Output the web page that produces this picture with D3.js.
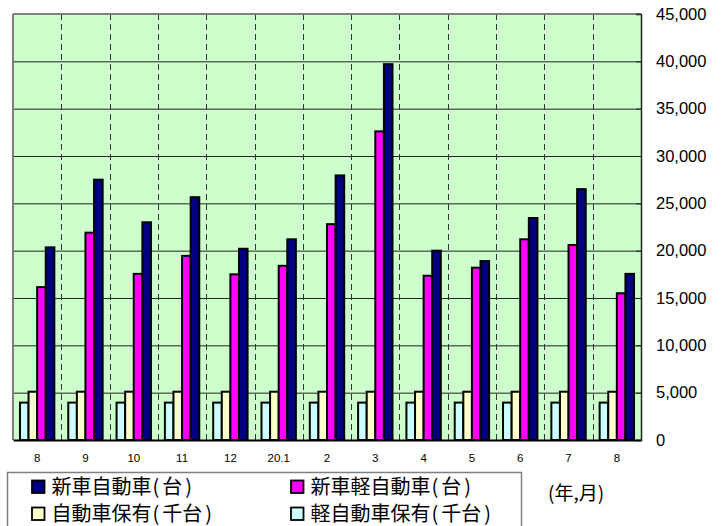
<!DOCTYPE html>
<html>
<head>
<meta charset="utf-8">
<script src="https://cdn.jsdelivr.net/npm/d3@7"></script>
<style>
  body { margin: 0; background: #fff; }
  svg { display: block; }
</style>
</head>
<body>
<svg id="chart" width="722" height="526"></svg>
<script>
// months (year.month)
const categories = ['8', '9', '10', '11', '12', '20.1', '2', '3', '4', '5', '6', '7', '8 '];
const kei_hoyu  = [3950, 3950, 3950, 3950, 3950, 3950, 3950, 3950, 3950, 3950, 3950, 3950, 3950];
const jido_hoyu = [5100, 5100, 5100, 5100, 5100, 5100, 5100, 5100, 5100, 5100, 5100, 5100, 5100];
const shinsha_kei = [16150, 21900, 17550, 19450, 17500, 18400, 22800, 32600, 17350, 18200, 21200, 20600, 15500];
const shinsha     = [20350, 27500, 23000, 25650, 20200, 21200, 27950, 39700, 20000, 18900, 23450, 26500, 17550];
const yTicks = [0, 5000, 10000, 15000, 20000, 25000, 30000, 35000, 40000, 45000];

const series = [
  { key: 'kei',  name: '軽自動車保有(千台)', color: '#CCFFFF', values: kei_hoyu },
  { key: 'jido', name: '自動車保有(千台)',   color: '#FFFFCC', values: jido_hoyu },
  { key: 'skei', name: '新車軽自動車(台)',   color: '#FF00FF', values: shinsha_kei },
  { key: 'sha',  name: '新車自動車(台)',     color: '#000080', values: shinsha }
];

const pL = 13, pR = 641, pT = 14, pB = 440;
const svg = d3.select('#chart');

const x0 = d3.scaleBand().domain(categories).range([pL, pR]).padding(0);
const x1 = d3.scaleBand().domain(series.map(s => s.key))
    .range([0, x0.bandwidth()]).paddingInner(0).paddingOuter(0.81);
const y = d3.scaleLinear().domain([0, 45000]).range([pB, pT]);

// plot background
svg.append('rect')
    .attr('x', pL).attr('y', pT)
    .attr('width', pR - pL).attr('height', pB - pT)
    .attr('fill', '#CCFFCC');

// horizontal grid
svg.append('g')
  .selectAll('line')
  .data(yTicks.slice(1, -1))
  .join('line')
    .attr('x1', pL).attr('x2', pR)
    .attr('y1', d => y(d) + 0.5).attr('y2', d => y(d) + 0.5)
    .attr('stroke', '#222').attr('stroke-width', 1);

// vertical dashed grid at category boundaries
svg.append('g')
  .selectAll('line')
  .data(categories.slice(1))
  .join('line')
    .attr('x1', d => Math.round(x0(d)) + 0.5).attr('x2', d => Math.round(x0(d)) + 0.5)
    .attr('y1', pT).attr('y2', pB)
    .attr('stroke', '#333').attr('stroke-width', 1)
    .attr('stroke-dasharray', '6,4');

// bars
const groups = svg.append('g')
  .selectAll('g')
  .data(categories)
  .join('g')
    .attr('transform', d => `translate(${x0(d)},0)`);

groups.selectAll('rect')
  .data((d, i) => series.map(s => ({ key: s.key, color: s.color, value: s.values[i] })))
  .join('rect')
    .attr('x', d => x1(d.key))
    .attr('y', d => y(d.value))
    .attr('width', x1.bandwidth())
    .attr('height', d => y(0) - y(d.value))
    .attr('fill', d => d.color)
    .attr('stroke', '#000')
    .attr('stroke-width', 2);

// plot border: gray top/left
svg.append('line').attr('x1', pL).attr('x2', pR).attr('y1', pT).attr('y2', pT)
    .attr('stroke', '#808080').attr('stroke-width', 2);
svg.append('line').attr('x1', pL).attr('x2', pL).attr('y1', pT).attr('y2', pB)
    .attr('stroke', '#808080').attr('stroke-width', 2);

// right axis
const yAxis = svg.append('g')
    .attr('transform', `translate(${pR},0)`)
    .call(d3.axisRight(y).tickValues(yTicks).tickSize(-5).tickPadding(15)
      .tickFormat(d3.format(',')));
yAxis.select('.domain').attr('stroke', '#222').attr('stroke-width', 1.5);
yAxis.selectAll('.tick line').attr('stroke', '#222');
yAxis.selectAll('text')
    .attr('font-family', 'Liberation Sans, Arial, sans-serif')
    .attr('font-size', 16.5).attr('fill', '#000');

// bottom axis
const xAxis = svg.append('g')
    .attr('transform', `translate(0,${pB})`)
    .call(d3.axisBottom(x0).tickSize(0).tickPadding(14).tickFormat(d => d.trim()));
xAxis.select('.domain').attr('stroke', '#000').attr('stroke-width', 2);
xAxis.selectAll('text')
    .attr('font-family', 'Liberation Sans, Arial, sans-serif')
    .attr('font-size', 11.5).attr('fill', '#000');

// legend
svg.append('rect')
    .attr('x', 7.5).attr('y', 472.5).attr('width', 514).attr('height', 60)
    .attr('fill', '#fff').attr('stroke', '#808080').attr('stroke-width', 1.5);

const legendOrder = ['sha', 'skei', 'jido', 'kei'];
const legendPos = [[32, 487], [291, 487], [32, 514], [291, 514]];
const legend = svg.append('g')
  .selectAll('g')
  .data(legendOrder.map(k => series.find(s => s.key === k)))
  .join('g')
    .attr('transform', (d, i) => `translate(${legendPos[i][0]},${legendPos[i][1]})`);
legend.append('rect')
    .attr('x', 0).attr('y', -6.5).attr('width', 12.5).attr('height', 12.5)
    .attr('fill', d => d.color).attr('stroke', '#000').attr('stroke-width', 1.8);
const ltext = legend.append('text')
    .attr('x', 19.5).attr('y', 0).attr('dy', '0.36em')
    .attr('font-family', 'Noto Sans CJK JP, sans-serif')
    .attr('font-size', 20).attr('fill', '#000');
// "name(unit)" with a little air inside the brackets
ltext.each(function(d) {
  const m = d.name.match(/^(.*)\((.*)\)$/);
  const t = d3.select(this);
  t.append('tspan').text(m[1]);
  t.append('tspan').attr('dx', 1).text('(');
  t.append('tspan').attr('dx', 3).text(m[2]);
  t.append('tspan').attr('dx', 3).text(')');
});

svg.append('text')
    .attr('x', 548).attr('y', 493).attr('dy', '0.36em')
    .attr('font-family', 'Noto Sans CJK JP, sans-serif')
    .attr('font-size', 19).attr('fill', '#000')
    .text('(年,月)');
</script>
</body>
</html>
